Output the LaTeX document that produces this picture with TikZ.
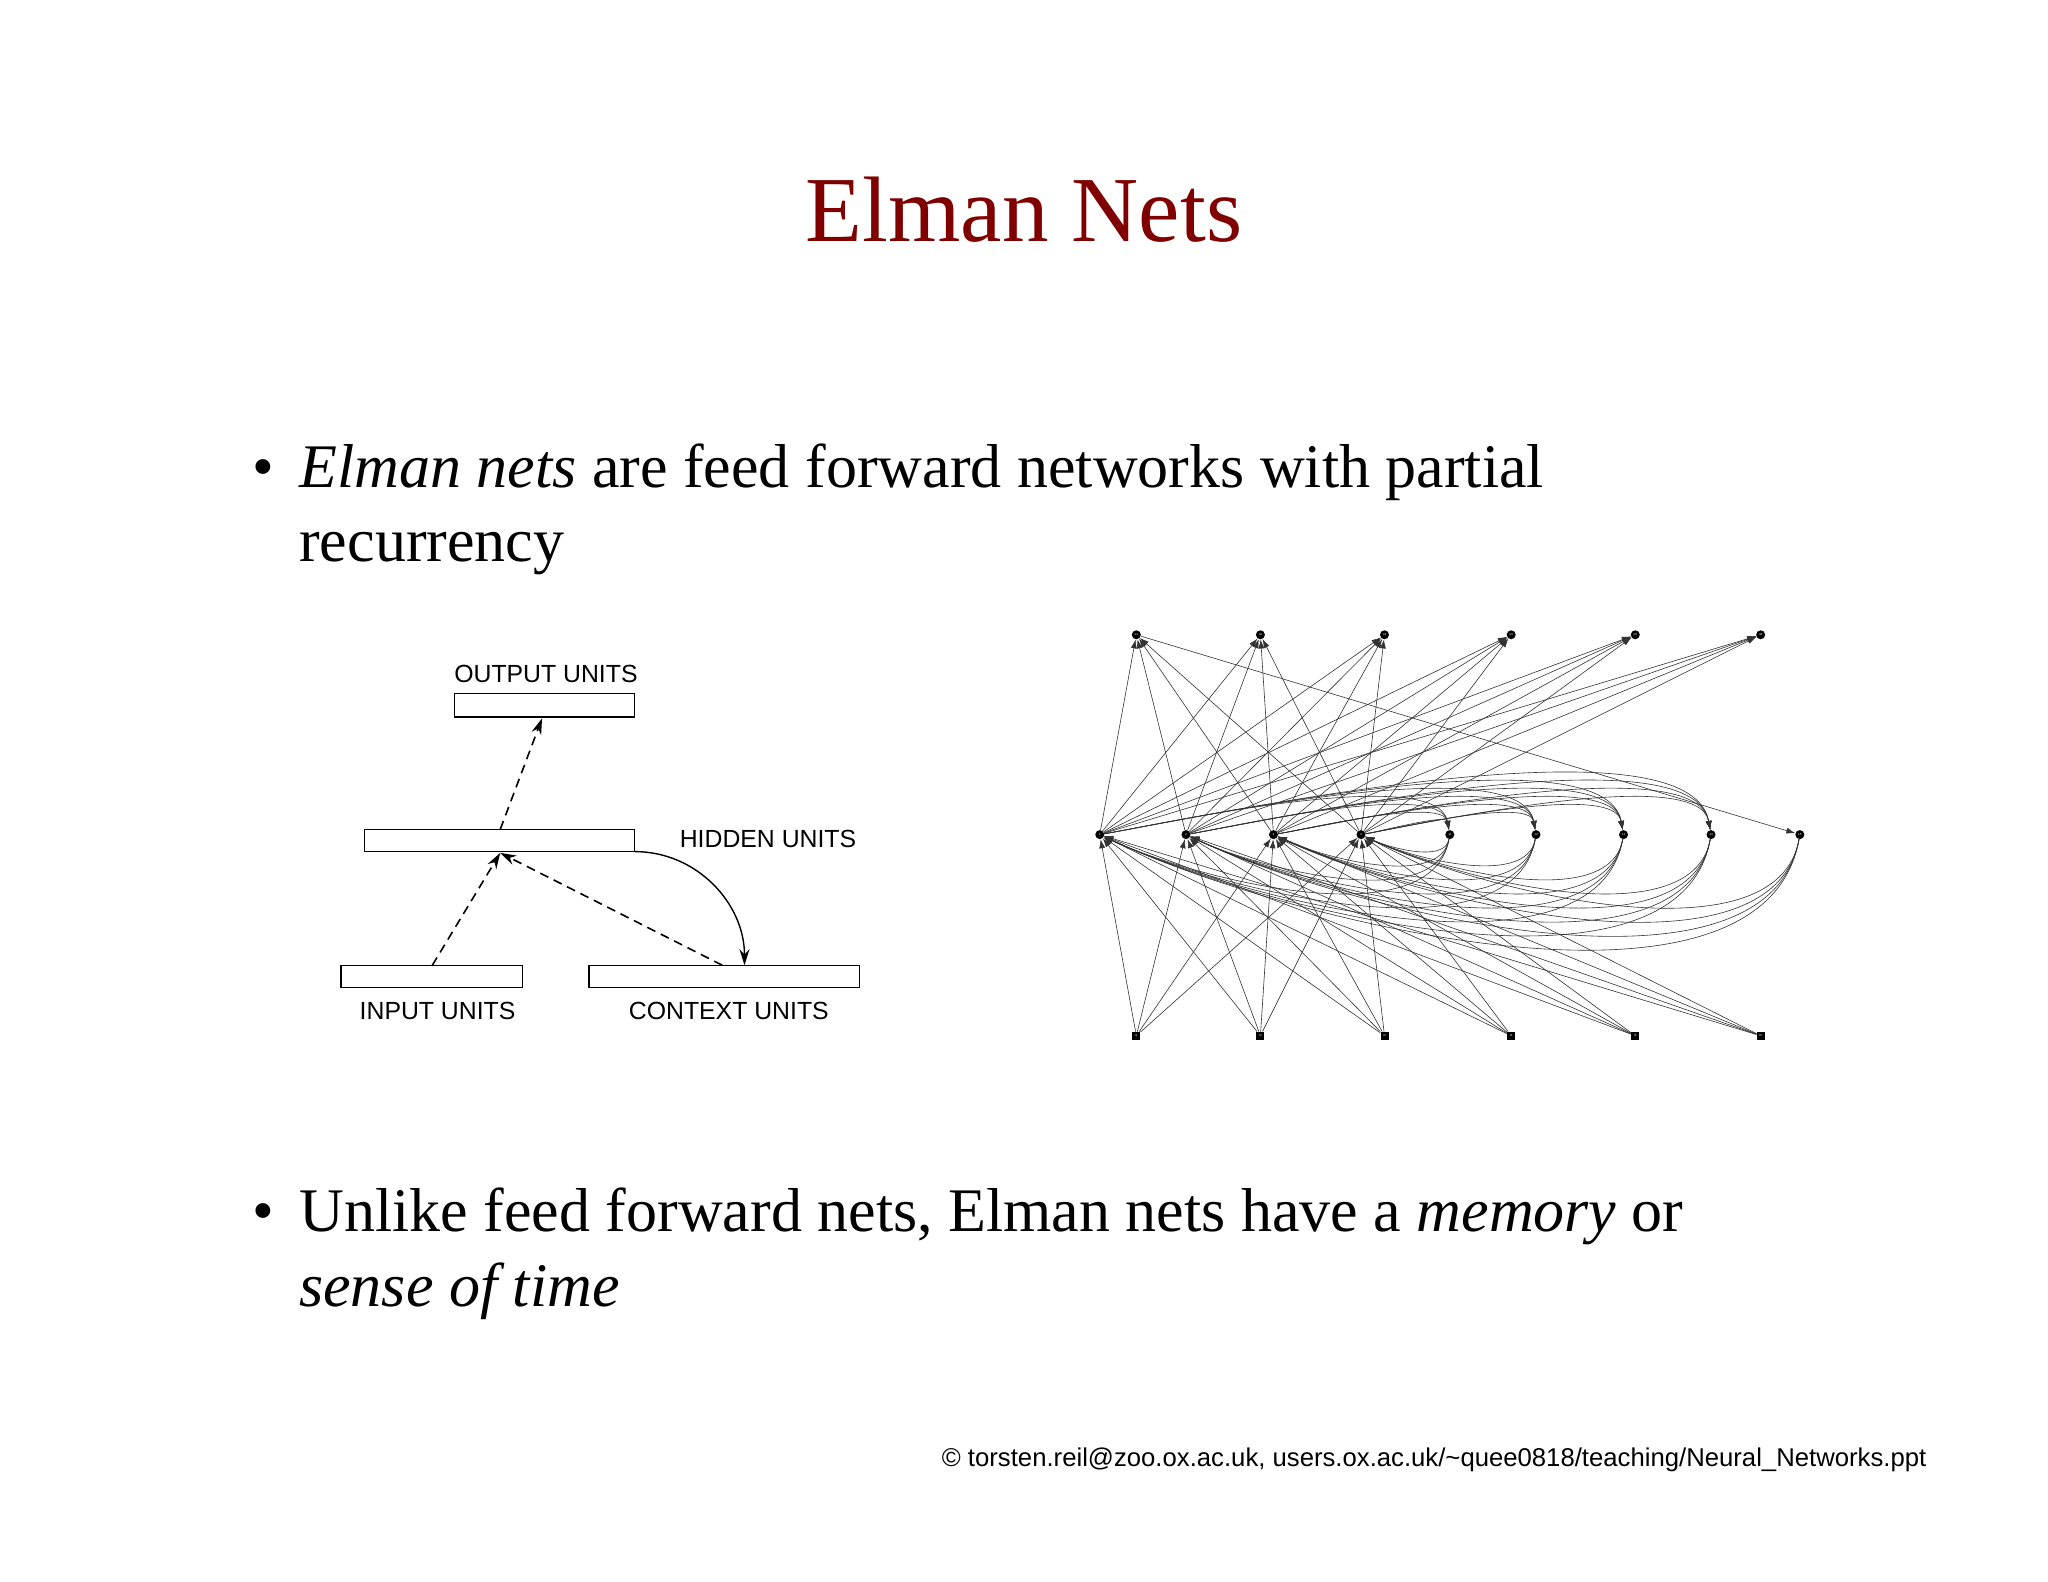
\documentclass[tikz,border=0pt]{standalone}
\usepackage{fontspec}
\setmainfont{Liberation Serif}
\setsansfont{Liberation Sans}
\usetikzlibrary{arrows.meta}
\definecolor{titlered}{HTML}{800000}
\begin{document}
\begin{tikzpicture}[x=1.306pt,y=-1.306pt,
  lbl/.style={font=\sffamily\fontsize{24.8}{28}\selectfont,inner sep=0pt},
  dasharrow/.style={dashed,line width=1.6pt,dash pattern=on 9pt off 6pt,-{Stealth[length=16pt,width=10pt]}},
  net/.style={line width=0.6pt,black!80},
  nettip/.style={-{Latex[length=9pt,width=6pt]}},
  circnode/.style={circle,fill=black,minimum size=9pt,inner sep=0pt,font=\sffamily\fontsize{3}{3}\selectfont,text=white},
  sqnode/.style={rectangle,fill=black,minimum size=8pt,inner sep=0pt,font=\sffamily\fontsize{3}{3}\selectfont,text=white},
  bodytext/.style={font=\fontsize{62}{74}\selectfont,anchor=base west,inner sep=0pt}]
\useasboundingbox (0,0) rectangle (1568,1211);
\fill[white] (0,0) rectangle (1568,1211);
% title
\node[font=\fontsize{93}{104}\selectfont,text=titlered,anchor=base,inner sep=0pt] (title) at (784,185) {Elman Nets};
% bullets
\node[bodytext] (b1) at (193,373) {\textbullet};
\node[bodytext] (t1) at (229,373) {\textit{Elman nets} are feed forward networks with partial};
\node[bodytext] (t1b) at (229,430) {recurrency};
\node[bodytext] (b2) at (193,943) {\textbullet};
\node[bodytext] (t2) at (229,943) {Unlike feed forward nets, Elman nets have a \textit{memory} or};
\node[bodytext] (t2b) at (229,1000) {\textit{sense of time}};
\node[font=\sffamily\fontsize{25.7}{28}\selectfont,anchor=base east,inner sep=0pt] (copy) at (1475,1123) {© torsten.reil@zoo.ox.ac.uk, users.ox.ac.uk/\textasciitilde quee0818/teaching/Neural\_Networks.ppt};
% left diagram
\draw[line width=1.2pt] (348,531) rectangle (486,549);
\draw[line width=1.2pt] (279,635) rectangle (486,652);
\draw[line width=1.2pt] (261,739) rectangle (400,756);
\draw[line width=1.2pt] (451,739) rectangle (658,756);
\coordinate (outb) at (415,550);
\coordinate (hidt) at (383,635);
\coordinate (hidb) at (383,653);
\coordinate (hidr) at (486,652);
\coordinate (inpt) at (331,739);
\coordinate (ctxt) at (553,739);
\coordinate (ctxr) at (570,739);
\node[lbl] (lo) at (418,516) {OUTPUT UNITS};
\node[lbl] (lh) at (588,642) {HIDDEN UNITS};
\node[lbl] (li) at (335,774) {INPUT UNITS};
\node[lbl] (lc) at (558,774) {CONTEXT UNITS};
\draw[dasharrow] (hidt) -- (outb);
\draw[dasharrow] (inpt) -- (hidb);
\draw[dasharrow] (ctxt) -- (hidb);
\draw[line width=1.4pt,-{Stealth[length=16pt,width=10pt]}] (hidr) to[out=0,in=90] (ctxr);
% right network
\foreach \x [count=\i] in {870,965,1060,1157,1252,1348}{
  \node[circnode] (o\i) at (\x,486) {o\i};
  \node[sqnode] (in\i) at (\x,793) {I\i};
}
\foreach \x [count=\i] in {842,908,975,1042}{
  \node[circnode] (h\i) at (\x,639) {\i};
}
\foreach \x [count=\i] in {1110,1176,1243,1310,1378}{
  \pgfmathtruncatemacro\lab{10+\i}
  \node[circnode] (c\i) at (\x,639) {\lab};
}
\foreach \h in {1,...,4}{
  \foreach \o in {1,...,6}{\draw[net,nettip] (h\h) -- (o\o);}
  \foreach \k in {1,...,6}{\draw[net,nettip] (in\k) -- (h\h);}
  \foreach \c in {1,...,5}{\draw[net,nettip] (c\c) to[out=-100,in=-25,looseness=0.75] (h\h);}
}
\foreach \h in {1,...,4}{
  \foreach \c in {1,...,4}{\draw[net,nettip] (h\h) to[out=10,in=100,looseness=0.5] (c\c);}
}
\draw[net,nettip] (o1) -- (c5);
\end{tikzpicture}
\end{document}
